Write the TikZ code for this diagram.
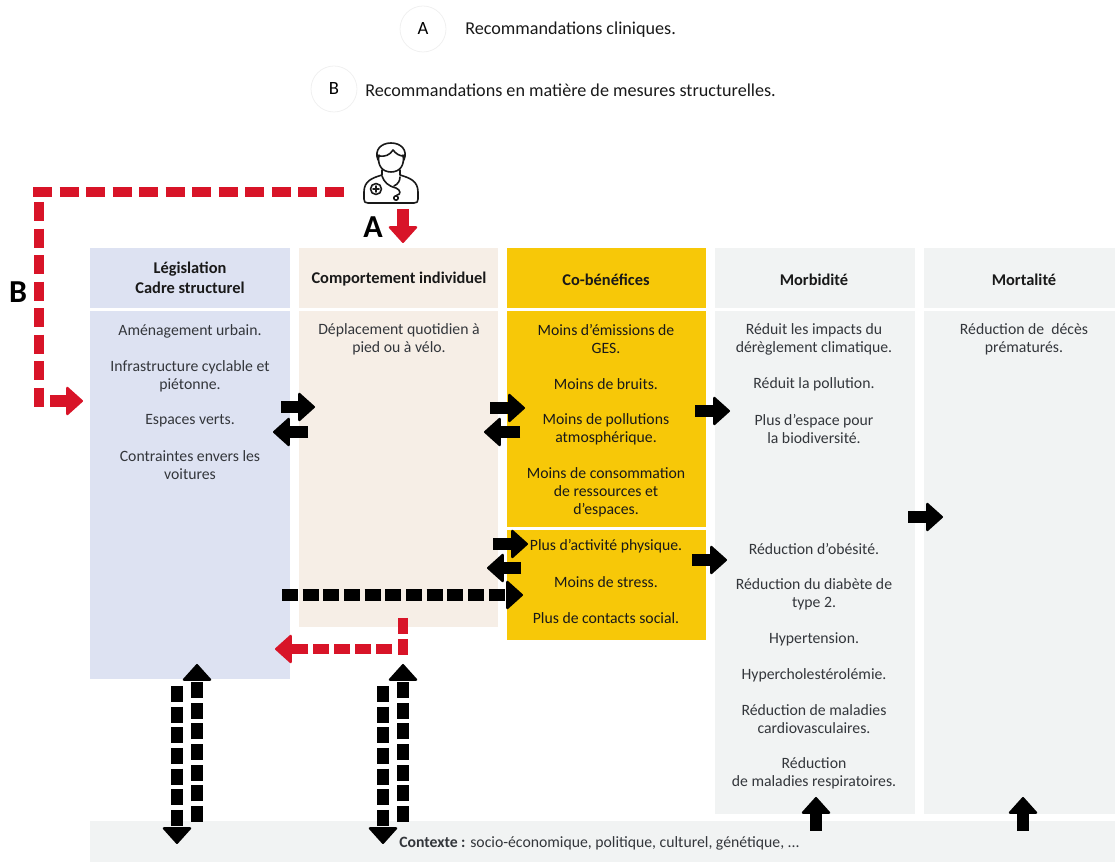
\documentclass[tikz,border=0pt]{standalone}
\usepackage{fontspec}
\setmainfont{Carlito}
\usetikzlibrary{arrows.meta}
\definecolor{cblue}{HTML}{DDE2F2}
\definecolor{cbeige}{HTML}{F6EEE6}
\definecolor{cyellow}{HTML}{F7C808}
\definecolor{cgray}{HTML}{F1F3F3}
\definecolor{cred}{HTML}{D81428}
\definecolor{ctext}{HTML}{33363B}
\tikzset{
  x=0.75pt,y=-0.75pt,
  head/.style={font=\fontsize{12.3}{13.5}\selectfont\bfseries,align=center,text=black!90},
  para/.style={font=\fontsize{11.8}{13.5}\selectfont,align=center,text=ctext},
  parab/.style={font=\fontsize{11.8}{13.5}\selectfont,align=center,text=black!90},
  legend/.style={font=\fontsize{13.6}{16}\selectfont,anchor=west,text=black!90,inner sep=0pt},
  letter/.style={font=\fontsize{24}{25}\selectfont\bfseries,text=black},
  badge/.style={circle,draw=black!6,line width=0.6pt,minimum size=34.5pt,inner sep=0pt,font=\fontsize{14}{16}\selectfont},
  blockarrow/.style={line width=8.5pt,-{Triangle[length=13pt,width=23pt,round,line width=1.6pt]}},
  blk/.style={blockarrow,color=black},
  redarr/.style={blockarrow,color=cred},
  blkdash/.style={blockarrow,color=black,dash pattern=on 12pt off 3.5pt},
  reddash/.style={line width=8pt,color=cred,dash pattern=on 14.3pt off 5.6pt},
  reddashb/.style={blockarrow,line width=8pt,color=cred,dash pattern=on 12pt off 3.7pt},
}
\begin{document}
\begin{tikzpicture}
\useasboundingbox (0,0) rectangle (1115,862);
% panels
\fill[cblue] (90,248) rectangle (290,308);
\fill[cblue] (90,311) rectangle (290,679);
\fill[cbeige] (299,248) rectangle (498,308);
\fill[cbeige] (299,311) rectangle (498,627);
\fill[cyellow] (507,248) rectangle (706,308);
\fill[cyellow] (507,311) rectangle (706,527);
\fill[cyellow] (507,530) rectangle (706,640);
\fill[cgray] (715,248) rectangle (915,308);
\fill[cgray] (715,311) rectangle (915,814);
\fill[cgray] (924,248) rectangle (1115,308);
\fill[cgray] (924,311) rectangle (1115,814);
\fill[cgray] (90,821) rectangle (1115,862);
% legend
\node[badge] (ba) at (423,29) {A};
\node[legend] (la) at (465,30) {Recommandations cliniques.};
\node[badge] (bb) at (334,89) {B};
\node[legend] (lb) at (365,90) {Recommandations en matière de mesures structurelles.};
% headers
\node[head] (h1) at (190,278) {Législation\\[1.5pt]Cadre structurel};
\node[head] (h2) at (399,279) {Comportement individuel};
\node[head] (h3) at (606,280) {Co-bénéfices};
\node[head] (h4) at (814,280) {Morbidité};
\node[head] (h5) at (1024,280) {Mortalité};
% column 1
\node[para] (a1) at (190,331) {Aménagement urbain.};
\node[para] (a2) at (190,376) {Infrastructure cyclable et\\piétonne.};
\node[para] (a3) at (190,421) {Espaces verts.};
\node[para] (a4) at (190,465) {Contraintes envers les\\voitures};
% column 2
\node[para] (b1) at (399,339) {Déplacement quotidien à\\pied ou à vélo.};
% column 3
\node[parab] (c1) at (606,339) {Moins d’émissions de\\GES.};
\node[parab] (c2) at (606,384) {Moins de bruits.};
\node[parab] (c3) at (606,429) {Moins de pollutions\\atmosphérique.};
\node[parab] (c4) at (606,492) {Moins de consommation\\de ressources et\\d’espaces.};
\node[parab] (c5) at (606,546) {Plus d’activité physique.};
\node[parab] (c6) at (606,582) {Moins de stress.};
\node[parab] (c7) at (606,618) {Plus de contacts social.};
% column 4
\node[para] (d1) at (814,339) {Réduit les impacts du\\dérèglement climatique.};
\node[para] (d2) at (814,384) {Réduit la pollution.};
\node[para] (d3) at (814,429) {Plus d’espace pour\\la biodiversité.};
\node[para] (d4) at (814,549) {Réduction d’obésité.};
\node[para] (d5) at (814,594) {Réduction du diabète de\\type 2.};
\node[para] (d6) at (814,639) {Hypertension.};
\node[para] (d7) at (814,675) {Hypercholestérolémie.};
\node[para] (d8) at (814,719) {Réduction de maladies\\cardiovasculaires.};
\node[para] (d9) at (814,773) {Réduction\\de maladies respiratoires.};
% column 5
\node[para] (e1) at (1024,339) {Réduction de\ \ décès\\prématurés.};
% context
\node[para,anchor=west,inner sep=0pt] (ctx) at (399,843) {\textbf{Contexte :} socio-économique, politique, culturel, génétique, ...};
% big letters
\node[letter] (LA) at (373,227) {A};
\node[letter] (LB) at (18,292) {B};
% doctor icon
\begin{scope}[line width=1.2pt,line cap=round,line join=round,draw=black!90]
\draw (379,155) .. controls (377,165) and (382,172) .. (391,172) .. controls (400,172) and (405,165) .. (403,155);
\draw (378,160) .. controls (374,150) and (381,143) .. (391,143) .. controls (401,143) and (408,150) .. (404,160);
\draw (379,156) .. controls (385,157) and (390,155) .. (393,150) .. controls (396,154) and (400,156) .. (403,156);
\draw (382,170) -- (382,175) .. controls (372,178) and (364,181) .. (364,192) -- (364,199) .. controls (364,202) and (365,203) .. (368,203) -- (414,203) .. controls (417,203) and (418,202) .. (418,199) -- (418,192) .. controls (418,181) and (410,178) .. (400,175) -- (400,170);
\draw (382,176) .. controls (384,182) and (388,186) .. (396,188) .. controls (401,190) and (401,195) .. (397,195);
\draw (400,177) .. controls (400,181) and (398,184) .. (394,186);
\draw (396,198) circle (2.2);
\draw (376,189) circle (5.5);
\draw (373,189) -- (379,189) (376,186) -- (376,192);
\end{scope}
% coordinates for connectors
\coordinate (rA1) at (403,209); \coordinate (rA2) at (403,243);
\coordinate (rh1) at (344,192); \coordinate (rh2) at (33,192);
\coordinate (rv1) at (39,202); \coordinate (rv2) at (39,407);
\coordinate (rB1) at (50,401); \coordinate (rB2) at (83,401);
% red
\draw[redarr] (rA1) -- (rA2);
\draw[reddash] (rh2) -- (rh1);
\draw[reddash] (rv1) -- (rv2);
\draw[redarr] (rB1) -- (rB2);
\coordinate (rl1) at (403,618); \coordinate (rl2) at (403,656);
\coordinate (rl3) at (392,649); \coordinate (rl4) at (275,649);
\draw[reddash,line width=8pt,dash pattern=on 12pt off 3.7pt] (rl1) -- (rl2);
\draw[reddashb] (rl3) -- (rl4);
% black solid arrows
\coordinate (p1) at (281,407); \coordinate (p2) at (315,407);
\coordinate (p3) at (308,432); \coordinate (p4) at (273,432);
\coordinate (p5) at (490,408); \coordinate (p6) at (525,408);
\coordinate (p7) at (520,432); \coordinate (p8) at (484,432);
\coordinate (p9) at (695,411); \coordinate (p10) at (730,411);
\coordinate (p11) at (493,544); \coordinate (p12) at (528,544);
\coordinate (p13) at (521,568); \coordinate (p14) at (487,568);
\coordinate (p15) at (692,560); \coordinate (p16) at (727,560);
\coordinate (p17) at (908,517); \coordinate (p18) at (943,517);
\coordinate (p19) at (816,831); \coordinate (p20) at (816,797);
\coordinate (p21) at (1023,831); \coordinate (p22) at (1023,797);
\draw[blk] (p1) -- (p2);
\draw[blk] (p3) -- (p4);
\draw[blk] (p5) -- (p6);
\draw[blk] (p7) -- (p8);
\draw[blk] (p9) -- (p10);
\draw[blk] (p11) -- (p12);
\draw[blk] (p13) -- (p14);
\draw[blk] (p15) -- (p16);
\draw[blk] (p17) -- (p18);
\draw[blk] (p19) -- (p20);
\draw[blk] (p21) -- (p22);
% black dashed arrows
\coordinate (q1) at (282,595); \coordinate (q2) at (523,595);
\coordinate (u1) at (197,822); \coordinate (u2) at (197,664);
\coordinate (v1) at (177,686); \coordinate (v2) at (177,844);
\coordinate (u3) at (403,822); \coordinate (u4) at (403,664);
\coordinate (v3) at (383,686); \coordinate (v4) at (383,844);
\draw[blkdash] (q1) -- (q2);
\draw[blkdash] (u1) -- (u2);
\draw[blkdash] (v1) -- (v2);
\draw[blkdash] (u3) -- (u4);
\draw[blkdash] (v3) -- (v4);
\end{tikzpicture}
\end{document}
